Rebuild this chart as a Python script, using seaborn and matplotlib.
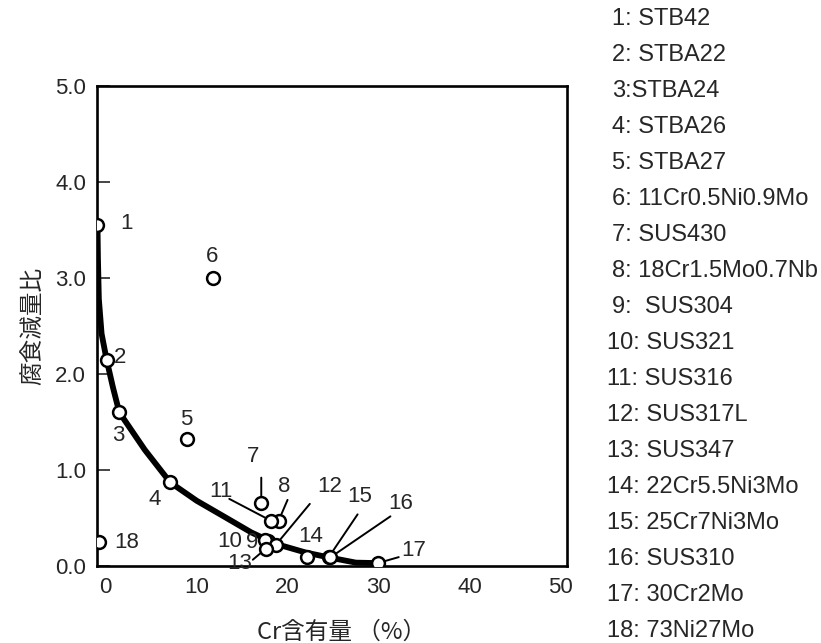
import matplotlib
matplotlib.use("Agg")
import matplotlib.pyplot as plt
import seaborn as sns
import pandas as pd
from matplotlib.ticker import FixedLocator

# --- data -------------------------------------------------------------
sample_ids = list(range(1, 19))
materials = ["STB42", "STBA22", "STBA24", "STBA26", "STBA27", "11Cr0.5Ni0.9Mo",
             "SUS430", "18Cr1.5Mo0.7Nb", "SUS304", "SUS321", "SUS316", "SUS317L",
             "SUS347", "22Cr5.5Ni3Mo", "25Cr7Ni3Mo", "SUS310", "30Cr2Mo", "73Ni27Mo"]
cr_content = [-0.9, 0.1, 1.5, 7.1, 8.9, 11.8, 17.1, 19.0, 17.8, 17.5,
              18.2, 18.7, 17.6, 22.1, 24.5, 24.7, 29.9, -0.75]
loss_ratio = [3.55, 2.15, 1.60, 0.87, 1.32, 3.0, 0.66, 0.47, 0.26, 0.27,
              0.47, 0.22, 0.18, 0.09, 0.09, 0.09, 0.03, 0.25]

# trend curve traced through the steel series
curve_x = [-0.9, -0.85, -0.75, -0.45, 0.1, 0.8, 1.5, 4.3, 7.1, 10.0, 13.1,
           16.0, 18.7, 22.0, 24.5, 27.5, 29.9]
curve_y = [3.55, 3.2, 2.78, 2.42, 2.15, 1.86, 1.60, 1.21, 0.87, 0.68, 0.51,
           0.35, 0.23, 0.14, 0.09, 0.035, 0.03]

x_ticks = [0, 10, 20, 30, 40, 50]
y_ticks = [0.0, 1.0, 2.0, 3.0, 4.0, 5.0]

legend_lines = ["1: STB42", "2: STBA22", "3:STBA24", "4: STBA26", "5: STBA27",
                "6: 11Cr0.5Ni0.9Mo", "7: SUS430", "8: 18Cr1.5Mo0.7Nb", "9:  SUS304",
                "10: SUS321", "11: SUS316", "12: SUS317L", "13: SUS347",
                "14: 22Cr5.5Ni3Mo", "15: 25Cr7Ni3Mo", "16: SUS310", "17: 30Cr2Mo",
                "18: 73Ni27Mo"]

points = pd.DataFrame({"id": sample_ids, "cr": cr_content, "loss": loss_ratio})
curve = pd.DataFrame({"cr": curve_x, "loss": curve_y})

# --- style ------------------------------------------------------------
sns.set_style("ticks")
plt.rcParams["font.family"] = ["Liberation Sans", "DejaVu Sans"]
cjk = ["Noto Sans CJK JP", "DejaVu Sans"]
num_font = ["Liberation Sans Narrow", "Liberation Sans", "DejaVu Sans"]

fig = plt.figure(figsize=(8.21, 6.43), dpi=100)
ax = fig.add_axes([97.3 / 821, 77 / 643, (567 - 97.3) / 821, (566 - 86) / 643])

sns.lineplot(data=curve, x="cr", y="loss", ax=ax, color="black", lw=4.2,
             sort=False, zorder=2, solid_capstyle="round")
sns.scatterplot(data=points, x="cr", y="loss", ax=ax, s=85, color="white",
                edgecolor="black", linewidth=1.8, zorder=4)

ax.set_xlim(-0.92, 50.7)
ax.set_ylim(0, 5.0)

# label placement: (text dx, dy) and optional leader (start dx, dy, end gap) in pixels
label_pos = {
    1: ((29, -2), None), 2: ((13, -2), None), 3: ((-1, 23), None),
    4: ((-16, 17), None), 5: ((0, -20), None), 6: ((-1, -21), None),
    7: ((-8, -46), (0, -25, 6)), 8: ((6, -34), (9, -21, 4)),
    9: ((-16, 1), None), 10: ((-35, 1), None),
    11: ((-50, -29), (-42, -22, 4)), 12: ((54, -58), (34, -41, 5.5)),
    13: ((-26, 15), (-13, 11, 6)), 14: ((4, -21), None),
    15: ((31, -61), (29, -43, 5)), 16: ((70, -54), (60, -41, 6)),
    17: ((36, -13), (21, -6, 6)), 18: ((28, 0), None),
}
for pid, x, y in zip(sample_ids, cr_content, loss_ratio):
    (tdx, tdy), leader = label_pos[pid]
    ax.annotate(str(pid), xy=(x, y), xytext=(tdx, -tdy), textcoords="offset pixels",
                ha="center", va="center", fontsize=16, family=num_font, zorder=5)
    if leader is not None:
        ldx, ldy, gap = leader
        ax.annotate("", xy=(x, y), xytext=(ldx, -ldy), textcoords="offset pixels",
                    arrowprops=dict(arrowstyle="-", color="black", lw=1.4,
                                    shrinkA=0, shrinkB=gap / 1.389),
                    zorder=3)

# axes frame and ticks
for side in ["left", "right", "top", "bottom"]:
    ax.spines[side].set_visible(True)
    ax.spines[side].set_linewidth(1.9)
    ax.spines[side].set_color("black")

ax.set_xticks(x_ticks)
ax.set_xticklabels([str(t) for t in x_ticks])
ax.xaxis.set_minor_locator(FixedLocator(x_ticks[1:-1]))
ax.tick_params(axis="x", which="major", length=0, pad=8, labelsize=16)
ax.tick_params(axis="x", which="minor", direction="in", length=9, width=1.2)
ax.set_yticks(y_ticks)
ax.set_yticklabels([f"{t:.1f}" for t in y_ticks])
ax.tick_params(axis="y", which="major", direction="in", length=9, width=1.2,
               pad=8, labelsize=16)

ax.set_xlabel("Cr含有量 （%）", family=cjk, fontsize=17)
ax.xaxis.set_label_coords(0.52, -0.115)
ax.set_ylabel("腐食減量比", family=cjk, fontsize=17)
ax.yaxis.set_label_coords(-0.113, 0.5)

# material key on the right
for i, line in enumerate(legend_lines):
    x0 = 607 if i >= 9 else 612
    fig.text(x0 / 821, 1 - (19 + i * 36) / 643, line, ha="left", va="center",
             fontsize=17)

fig.savefig("out.png", dpi=100)
